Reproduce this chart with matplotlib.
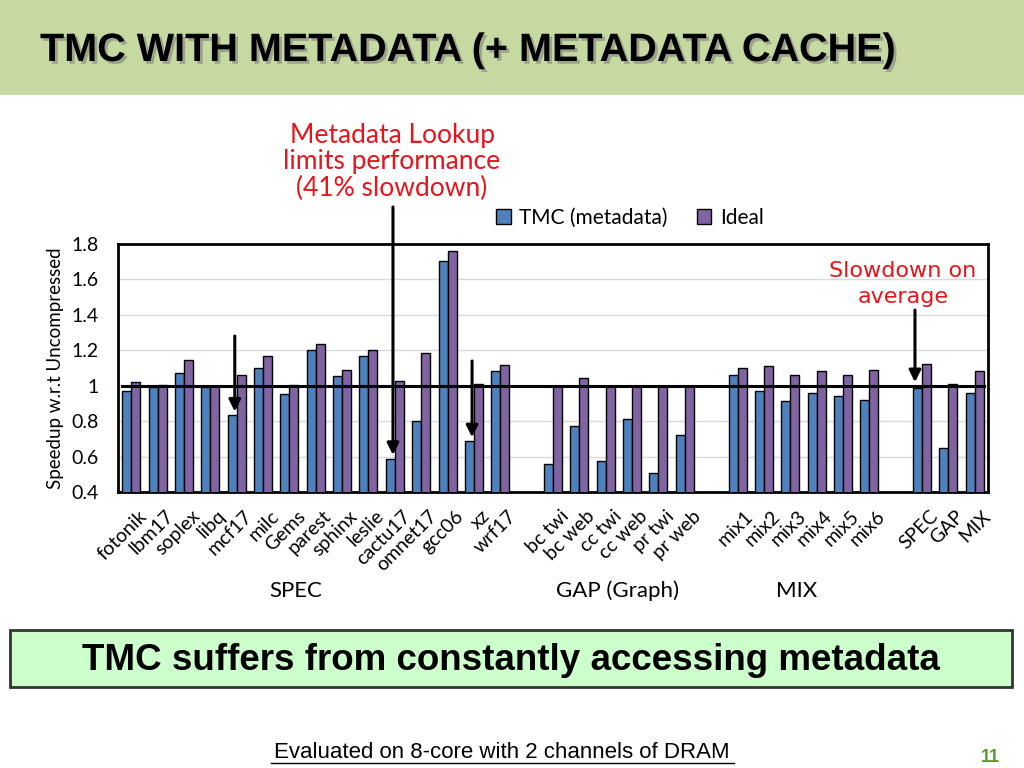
import matplotlib
matplotlib.use("Agg")
import matplotlib.pyplot as plt
import matplotlib.patheffects as pe
import matplotlib.transforms as mtransforms
from matplotlib.patches import Rectangle
from matplotlib.lines import Line2D
import numpy as np

# ---------------- data ----------------
spec_labels = ["fotonik", "lbm17", "soplex", "libq", "mcf17", "milc", "Gems", "parest",
               "sphinx", "leslie", "cactu17", "omnet17", "gcc06", "xz", "wrf17"]
spec_tmc = [0.97, 0.99, 1.07, 0.99, 0.834, 1.10, 0.953, 1.20, 1.055, 1.166, 0.589, 0.80, 1.704, 0.689, 1.081]
spec_ideal = [1.02, 1.004, 1.145, 1.00, 1.06, 1.166, 1.004, 1.238, 1.089, 1.204, 1.025, 1.183, 1.76, 1.008, 1.117]

gap_labels = ["bc twi", "bc web", "cc twi", "cc web", "pr twi", "pr web"]
gap_tmc = [0.56, 0.774, 0.575, 0.81, 0.508, 0.72]
gap_ideal = [1.00, 1.043, 1.00, 1.00, 1.00, 1.00]

mix_labels = ["mix1", "mix2", "mix3", "mix4", "mix5", "mix6"]
mix_tmc = [1.058, 0.972, 0.911, 0.96, 0.942, 0.921]
mix_ideal = [1.098, 1.113, 1.058, 1.083, 1.06, 1.089]

avg_labels = ["SPEC", "GAP", "MIX"]
avg_tmc = [0.985, 0.647, 0.96]
avg_ideal = [1.123, 1.008, 1.083]

series_names = ["TMC (metadata)", "Ideal"]
yticks = [0.4, 0.6, 0.8, 1.0, 1.2, 1.4, 1.6, 1.8]
ytick_labels = ["0.4", "0.6", "0.8", "1", "1.2", "1.4", "1.6", "1.8"]
group_names = ["SPEC", "GAP (Graph)", "MIX"]

# --------------- assemble slots (empty slot between groups) ---------------
labels = spec_labels + [""] + gap_labels + [""] + mix_labels + [""] + avg_labels
nan = np.nan
tmc = spec_tmc + [nan] + gap_tmc + [nan] + mix_tmc + [nan] + avg_tmc
ideal = spec_ideal + [nan] + gap_ideal + [nan] + mix_ideal + [nan] + avg_ideal
x = np.arange(len(labels))

BLUE = "#4f81bd"
PURPLE = "#8064a2"
RED = "#e8141b"
FONT = ["Lato", "DejaVu Sans"]
ARIAL = ["Liberation Sans", "DejaVu Sans"]

plt.rcParams["font.family"] = FONT

fig = plt.figure(figsize=(10.24, 7.68), dpi=100)

# header band
fig.patches.append(Rectangle((0, 1 - 95 / 768), 1, 95 / 768, transform=fig.transFigure,
                             facecolor="#c6d9a1", edgecolor="none", zorder=0))
fig.text(40 / 1024, 1 - 50 / 768, "TMC WITH METADATA (+ METADATA CACHE)",
         family=ARIAL, weight="bold", fontsize=28.5, va="center", ha="left", color="black",
         path_effects=[pe.withSimplePatchShadow(offset=(2, -2), shadow_rgbFace="gray", alpha=0.6)])

ax = fig.add_axes([118 / 1024, 1 - 492 / 768, 870 / 1024, 248 / 768])
w = 0.34
ax.bar(x - w / 2, tmc, width=w, color=BLUE, edgecolor="black", linewidth=1.0,
       label=series_names[0], zorder=3)
ax.bar(x + w / 2, ideal, width=w, color=PURPLE, edgecolor="black", linewidth=1.0,
       label=series_names[1], zorder=3)
ax.set_xlim(-0.5, len(labels) - 0.5)
ax.set_ylim(0.4, 1.8)
ax.set_yticks(yticks)
ax.set_yticklabels(ytick_labels, fontsize=14)
ax.grid(axis="y", color="#d9d9d9", linewidth=1.0, zorder=0)
ax.set_axisbelow(True)
ax.tick_params(axis="y", length=0, pad=14)
ax.tick_params(axis="x", length=0, pad=11)
ax.set_xticks(x)
ax.set_xticklabels(labels, rotation=45, ha="right", va="top", rotation_mode="anchor",
                   fontsize=14)
shift = mtransforms.ScaledTranslation(7 / 100, 0, fig.dpi_scale_trans)
for lab in ax.get_xticklabels():
    lab.set_transform(lab.get_transform() + shift)
for s in ax.spines.values():
    s.set_linewidth(2.0)
    s.set_color("black")
ax.axhline(1.0, xmin=0.005, xmax=0.995, color="black", linewidth=2.2, zorder=4)

ax.set_ylabel("Speedup w.r.t Uncompressed", fontsize=13.5, labelpad=5)

# legend
fig.legend(loc="center", bbox_to_anchor=(630 / 1024, 1 - 218 / 768), ncol=2, frameon=False,
           fontsize=15, handlelength=0.7, handleheight=0.7, columnspacing=1.4, handletextpad=0.4)

# group labels
fig.text(296 / 1024, 1 - 591 / 768, group_names[0], fontsize=16, ha="center", va="center")
fig.text(618 / 1024, 1 - 591 / 768, group_names[1], fontsize=16, ha="center", va="center")
fig.text(797 / 1024, 1 - 591 / 768, group_names[2], fontsize=16, ha="center", va="center")

# annotations
fig.text(392 / 1024, 1 - 162 / 768, "Metadata Lookup\nlimits performance\n(41% slowdown)",
         color=RED, fontsize=19, ha="center", va="center", linespacing=1.08)
fig.text(903 / 1024, 1 - 284 / 768, "Slowdown on\naverage", color=RED, fontsize=16,
         ha="center", va="center", family=["DejaVu Sans"], linespacing=1.35)

arrow_kw = dict(arrowstyle="-|>,head_length=0.7,head_width=0.35", color="black", lw=2.2,
                shrinkA=0, shrinkB=0)
blend = mtransforms.blended_transform_factory(ax.transData, fig.transFigure)

def arrow(slot, value, y_top_px, dx=-0.07):
    ax.annotate("", xy=(slot + dx, value + 0.02), xycoords="data",
                xytext=(slot + dx, 1 - y_top_px / 768), textcoords=blend,
                arrowprops=arrow_kw, annotation_clip=False, zorder=6)

arrow(labels.index("cactu17"), tmc[labels.index("cactu17")], 207)
arrow(labels.index("mcf17"), tmc[labels.index("mcf17")], 336)
arrow(labels.index("xz"), tmc[labels.index("xz")], 361)
arrow(len(labels) - 3, 1.0, 310, dx=-0.27)

# takeaway box
fig.patches.append(Rectangle((10 / 1024, 1 - 687 / 768), 1002 / 1024, 57 / 768,
                             transform=fig.transFigure, facecolor="#ccffcc",
                             edgecolor="#333333", linewidth=2, zorder=1))
fig.text(511 / 1024, 1 - 660 / 768, "TMC suffers from constantly accessing metadata",
         family=ARIAL, weight="bold", fontsize=26.5, ha="center", va="center", zorder=2)

fig.text(502 / 1024, 1 - 752 / 768, "Evaluated on 8-core with 2 channels of DRAM",
         family=ARIAL, fontsize=16, ha="center", va="center")
fig.add_artist(Line2D([271 / 1024, 734 / 1024], [1 - 763 / 768, 1 - 763 / 768],
                      color="black", lw=1))
fig.text(990 / 1024, 1 - 757 / 768, "11", family=ARIAL,
         weight="bold", fontsize=13, color="#5a9a2e", ha="center", va="center")

fig.savefig("out.png", dpi=100)
